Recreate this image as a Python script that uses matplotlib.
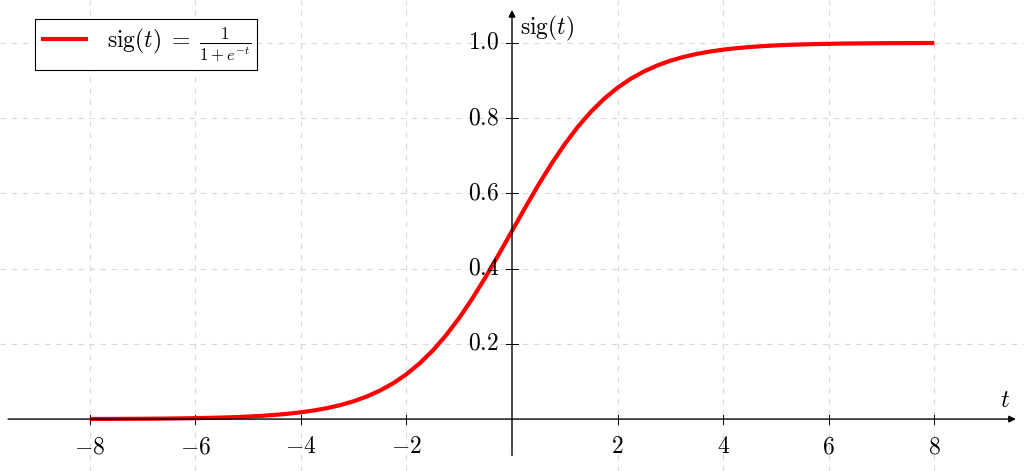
import matplotlib
matplotlib.use('Agg')
import matplotlib.pyplot as plt

plt.rcParams['font.family'] = 'serif'
plt.rcParams['font.serif'] = ['cmr10']
plt.rcParams['mathtext.fontset'] = 'cm'
plt.rcParams['axes.unicode_minus'] = False

# values, step 0.25
t_vals = [-8.0, -7.75, -7.5, -7.25, -7.0, -6.75, -6.5, -6.25, -6.0, -5.75,
          -5.5, -5.25, -5.0, -4.75, -4.5, -4.25, -4.0, -3.75, -3.5, -3.25,
          -3.0, -2.75, -2.5, -2.25, -2.0, -1.75, -1.5, -1.25, -1.0, -0.75,
          -0.5, -0.25, 0.0, 0.25, 0.5, 0.75, 1.0, 1.25, 1.5, 1.75, 2.0,
          2.25, 2.5, 2.75, 3.0, 3.25, 3.5, 3.75, 4.0, 4.25, 4.5, 4.75, 5.0,
          5.25, 5.5, 5.75, 6.0, 6.25, 6.5, 6.75, 7.0, 7.25, 7.5, 7.75, 8.0]
sig_vals = [0.0003, 0.0004, 0.0006, 0.0007, 0.0009, 0.0012, 0.0015, 0.0019,
            0.0025, 0.0032, 0.0041, 0.0052, 0.0067, 0.0086, 0.0110, 0.0141,
            0.0180, 0.0230, 0.0293, 0.0373, 0.0474, 0.0601, 0.0759, 0.0953,
            0.1192, 0.1480, 0.1824, 0.2227, 0.2689, 0.3208, 0.3775, 0.4378,
            0.5000, 0.5622, 0.6225, 0.6792, 0.7311, 0.7773, 0.8176, 0.8520,
            0.8808, 0.9047, 0.9241, 0.9399, 0.9526, 0.9627, 0.9707, 0.9770,
            0.9820, 0.9859, 0.9890, 0.9914, 0.9933, 0.9948, 0.9959, 0.9968,
            0.9975, 0.9981, 0.9985, 0.9988, 0.9991, 0.9993, 0.9994, 0.9996,
            0.9997]
x_ticks = [-8, -6, -4, -2, 2, 4, 6, 8]
y_ticks = [0.2, 0.4, 0.6, 0.8, 1.0]

fig = plt.figure(figsize=(10.24, 4.71), dpi=100)
ax = fig.add_axes([0, 0, 1, 1])
ax.set_xlim(-9.7, 9.7)
ax.set_ylim(-0.138, 1.114)
for s in ax.spines.values():
    s.set_visible(False)

# grid
for xt in x_ticks:
    ax.plot([xt, xt], [-0.138, 1.114], color='#d9d9d9', lw=0.8, ls=(0, (5, 5)), zorder=0)
for yt in y_ticks:
    ax.plot([-9.7, 9.7], [yt, yt], color='#d9d9d9', lw=0.8, ls=(0, (5, 5)), zorder=0)

# axes with arrows
ax.annotate('', xy=(9.6, 0), xytext=(-9.6, 0),
            arrowprops=dict(arrowstyle='-|>', color='black', lw=1.0, mutation_scale=10))
ax.annotate('', xy=(0, 1.095), xytext=(0, -0.104),
            arrowprops=dict(arrowstyle='-|>', color='black', lw=1.0, mutation_scale=10))

# tick marks and labels
for xt in x_ticks:
    ax.plot([xt, xt], [-0.012, 0.012], color='black', lw=0.7)
    ax.text(xt, -0.075, r'$%d$' % xt, ha='center', va='center', fontsize=17)
for yt in y_ticks:
    ax.plot([-0.12, 0.12], [yt, yt], color='black', lw=0.7)
    ax.text(-0.24, yt, r'$%.1f$' % yt, ha='right', va='center', fontsize=17)

ax.text(9.35, 0.018, r'$t$', ha='center', va='bottom', fontsize=18)
ax.text(0.15, 1.038, r'$\mathrm{sig}(t)$', ha='left', va='center', fontsize=17)

ax.plot(t_vals, sig_vals, color='red', lw=3,
        label=r'$\mathrm{sig}(t)\;=\;\frac{1}{1+e^{-t}}$', solid_capstyle='butt')

leg = ax.legend(loc='upper left', bbox_to_anchor=(0.034, 0.960), fontsize=17,
                fancybox=False, edgecolor='black', framealpha=1,
                handlelength=2.0, handletextpad=0.8, borderpad=0.25,
                borderaxespad=0)
leg.get_frame().set_linewidth(0.8)

ax.set_xticks([])
ax.set_yticks([])
fig.savefig('out.png', dpi=100)
